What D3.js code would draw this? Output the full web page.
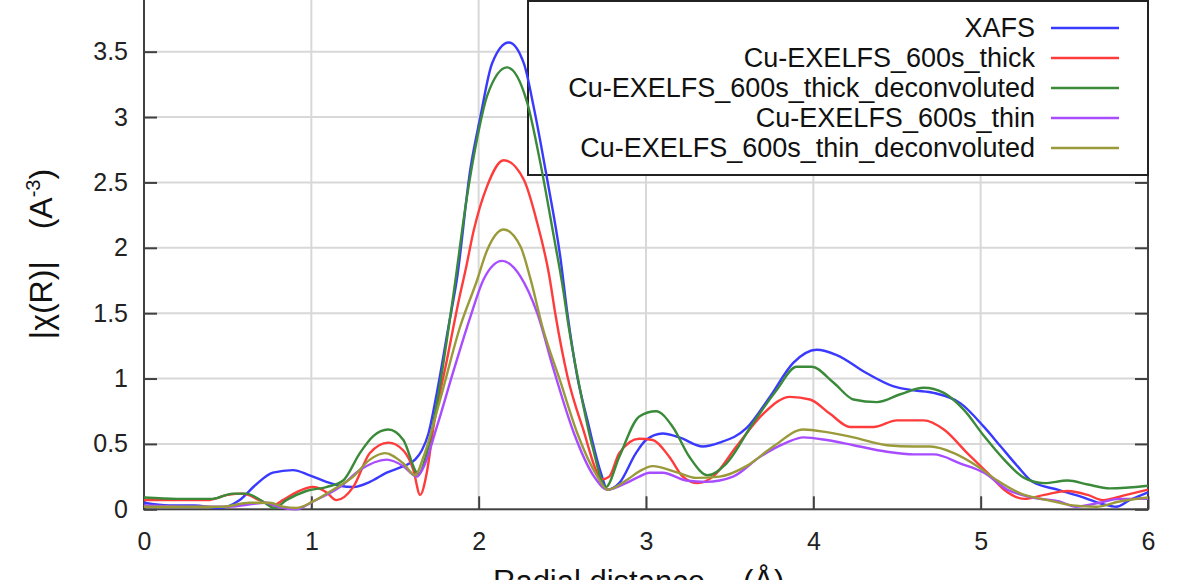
<!DOCTYPE html>
<html><head><meta charset="utf-8">
<script src="https://cdn.jsdelivr.net/npm/d3@7"></script>
<style>
html,body{margin:0;padding:0;background:#fff;}
svg{display:block;font-family:"Liberation Sans",Arial,sans-serif;}
</style></head>
<body>
<svg id="c" width="1200" height="580"></svg>
<script>
// ---- data (R in Å, |chi(R)|) ----
const xTicks = [0,1,2,3,4,5,6];
const yTicks = [0,0.5,1,1.5,2,2.5,3,3.5];
const seriesNames = ["XAFS","Cu-EXELFS_600s_thick","Cu-EXELFS_600s_thick_deconvoluted","Cu-EXELFS_600s_thin","Cu-EXELFS_600s_thin_deconvoluted"];
const seriesColors = ["#3a3aff","#ff3c3c","#3a8a3a","#a84cff","#9a9a3a"];

const xafs = [[0,0.05],[0.15,0.03],[0.3,0.03],[0.45,0.01],[0.57,0.07],[0.67,0.19],[0.77,0.28],[0.89,0.30],[0.99,0.26],[1.09,0.21],[1.17,0.18],[1.25,0.17],[1.35,0.21],[1.45,0.28],[1.55,0.33],[1.62,0.38],[1.66,0.45],[1.70,0.58],[1.75,0.89],[1.82,1.40],[1.87,1.76],[1.95,2.6],[2.01,3.0],[2.08,3.41],[2.18,3.57],[2.27,3.41],[2.33,3.07],[2.41,2.52],[2.49,1.91],[2.53,1.50],[2.59,1.01],[2.65,0.68],[2.73,0.28],[2.77,0.15],[2.84,0.20],[2.94,0.43],[3.0,0.53],[3.10,0.58],[3.20,0.55],[3.34,0.48],[3.44,0.51],[3.60,0.62],[3.74,0.86],[3.88,1.12],[4.02,1.22],[4.14,1.18],[4.32,1.04],[4.48,0.94],[4.60,0.91],[4.72,0.89],[4.88,0.81],[5.02,0.63],[5.12,0.48],[5.22,0.33],[5.31,0.21],[5.46,0.15],[5.59,0.10],[5.73,0.04],[5.81,0.02],[5.89,0.07],[6.0,0.13]];

const thick = [[0,0.07],[0.2,0.07],[0.38,0.07],[0.5,0.11],[0.59,0.12],[0.69,0.07],[0.77,0.03],[0.83,0.07],[0.91,0.13],[1.01,0.17],[1.09,0.13],[1.15,0.07],[1.25,0.17],[1.35,0.43],[1.46,0.51],[1.55,0.45],[1.61,0.30],[1.65,0.11],[1.69,0.28],[1.73,0.63],[1.81,1.14],[1.89,1.65],[1.92,1.82],[1.97,2.13],[2.05,2.47],[2.15,2.67],[2.27,2.52],[2.35,2.19],[2.42,1.80],[2.46,1.48],[2.53,1.02],[2.62,0.63],[2.74,0.23],[2.78,0.25],[2.84,0.43],[2.96,0.54],[3.04,0.53],[3.14,0.40],[3.22,0.25],[3.31,0.20],[3.40,0.25],[3.54,0.48],[3.70,0.73],[3.86,0.86],[3.98,0.84],[4.10,0.73],[4.22,0.63],[4.36,0.63],[4.50,0.68],[4.66,0.68],[4.78,0.61],[4.92,0.43],[5.04,0.28],[5.14,0.15],[5.26,0.08],[5.38,0.11],[5.52,0.14],[5.64,0.11],[5.73,0.07],[5.87,0.11],[6.0,0.15]];

const thickDeconv = [[0,0.09],[0.2,0.08],[0.41,0.08],[0.53,0.12],[0.61,0.12],[0.71,0.06],[0.78,0.01],[0.85,0.07],[0.97,0.14],[1.09,0.17],[1.19,0.22],[1.29,0.43],[1.37,0.56],[1.46,0.61],[1.55,0.53],[1.64,0.27],[1.69,0.43],[1.75,0.81],[1.85,1.65],[1.93,2.39],[1.99,2.83],[2.05,3.16],[2.17,3.38],[2.29,3.11],[2.37,2.64],[2.45,2.08],[2.50,1.72],[2.54,1.38],[2.61,0.89],[2.68,0.48],[2.76,0.17],[2.84,0.40],[2.96,0.71],[3.06,0.75],[3.16,0.63],[3.26,0.40],[3.37,0.26],[3.48,0.35],[3.64,0.66],[3.78,0.91],[3.90,1.09],[3.99,1.09],[4.12,0.97],[4.24,0.84],[4.38,0.82],[4.52,0.88],[4.66,0.93],[4.78,0.89],[4.90,0.76],[5.02,0.56],[5.14,0.38],[5.26,0.24],[5.38,0.20],[5.52,0.22],[5.64,0.19],[5.77,0.16],[6.0,0.18]];

const thin = [[0,0.03],[0.3,0.02],[0.5,0.02],[0.73,0.05],[0.80,0.02],[0.91,0.0],[1.01,0.06],[1.17,0.17],[1.29,0.30],[1.45,0.38],[1.55,0.33],[1.63,0.25],[1.67,0.32],[1.75,0.63],[1.85,1.06],[1.95,1.47],[2.03,1.76],[2.14,1.90],[2.25,1.78],[2.35,1.50],[2.45,1.06],[2.57,0.58],[2.69,0.25],[2.77,0.15],[2.88,0.20],[2.96,0.25],[3.02,0.28],[3.10,0.28],[3.24,0.22],[3.36,0.21],[3.52,0.25],[3.68,0.40],[3.84,0.51],[3.94,0.55],[4.08,0.53],[4.24,0.49],[4.44,0.44],[4.60,0.42],[4.72,0.42],[4.88,0.35],[5.02,0.28],[5.16,0.15],[5.31,0.09],[5.47,0.06],[5.57,0.02],[5.71,0.05],[5.83,0.08],[6.0,0.08]];

const thinDeconv = [[0,0.02],[0.3,0.02],[0.47,0.02],[0.63,0.05],[0.75,0.05],[0.83,0.02],[0.91,0.01],[1.01,0.06],[1.13,0.15],[1.25,0.25],[1.35,0.38],[1.44,0.43],[1.55,0.35],[1.62,0.26],[1.67,0.40],[1.77,0.84],[1.89,1.40],[1.99,1.75],[2.05,1.98],[2.15,2.14],[2.25,2.01],[2.31,1.76],[2.38,1.40],[2.49,0.97],[2.59,0.58],[2.71,0.25],[2.77,0.15],[2.88,0.22],[2.96,0.29],[3.04,0.33],[3.19,0.28],[3.30,0.24],[3.44,0.25],[3.60,0.33],[3.76,0.48],[3.94,0.61],[4.08,0.59],[4.24,0.55],[4.44,0.49],[4.60,0.48],[4.70,0.48],[4.84,0.43],[4.98,0.33],[5.10,0.22],[5.24,0.12],[5.40,0.07],[5.55,0.03],[5.69,0.02],[5.83,0.06],[6.0,0.09]];

const seriesData = [xafs, thick, thickDeconv, thin, thinDeconv];

// ---- layout ----
const svg = d3.select("#c");
const x = d3.scaleLinear().domain([0,6]).range([144,1148]);
const y = d3.scaleLinear().domain([0,4]).range([509.3,-13.7]);
const frameCol = "#404040";

// grid
const g = svg.append("g");
g.selectAll("line.gx").data(xTicks.slice(1,-1)).join("line")
  .attr("x1",d=>x(d)).attr("x2",d=>x(d)).attr("y1",y(0)).attr("y2",y(4))
  .attr("stroke","#d8d8d8").attr("stroke-width",2);
g.selectAll("line.gy").data(yTicks.slice(1)).join("line")
  .attr("x1",x(0)).attr("x2",x(6)).attr("y1",d=>y(d)).attr("y2",d=>y(d))
  .attr("stroke","#d8d8d8").attr("stroke-width",2);

// axes (inward ticks)
const axL = svg.append("g").attr("transform",`translate(${x(0)},0)`)
  .call(d3.axisLeft(y).tickValues(yTicks).tickSize(-13).tickPadding(16).tickFormat(d3.format("")));
const axR = svg.append("g").attr("transform",`translate(${x(6)},0)`)
  .call(d3.axisRight(y).tickValues(yTicks).tickSize(-13).tickFormat(""));
const axB = svg.append("g").attr("transform",`translate(0,${y(0)})`)
  .call(d3.axisBottom(x).tickValues(xTicks).tickSize(-13).tickPadding(23).tickFormat(d3.format("")));
[axL,axR,axB].forEach(a=>{
  a.select(".domain").remove();
  a.selectAll(".tick line").attr("stroke",frameCol).attr("stroke-width",2);
  a.selectAll("text").attr("font-size",25).attr("fill","#222").attr("font-family","Liberation Sans, Arial, sans-serif");
});

// frame
svg.append("rect").attr("x",x(0)).attr("y",y(4)).attr("width",x(6)-x(0)).attr("height",y(0)-y(4))
  .attr("fill","none").attr("stroke",frameCol).attr("stroke-width",2);

// legend box (opaque)
svg.append("rect").attr("x",528).attr("y",1).attr("width",x(6)-528).attr("height",174)
  .attr("fill","#fff").attr("stroke","#222").attr("stroke-width",2);

// curves
const line = d3.line().x(d=>x(d[0])).y(d=>y(d[1])).curve(d3.curveMonotoneX);
svg.append("g").selectAll("path").data(seriesData).join("path")
  .attr("d",line).attr("fill","none")
  .attr("stroke",(d,i)=>seriesColors[i]).attr("stroke-width",2.4)
  .attr("stroke-linejoin","round");

// legend content
const lg = svg.append("g");
seriesNames.forEach((n,i)=>{
  const yy = 28 + i*30;
  lg.append("text").attr("x",1035).attr("y",yy).attr("dy","0.35em")
    .attr("text-anchor","end").attr("font-size",27).attr("fill","#111").text(n);
  lg.append("line").attr("x1",1051).attr("x2",1119).attr("y1",yy).attr("y2",yy)
    .attr("stroke",seriesColors[i]).attr("stroke-width",2.4);
});

// axis titles
const yt = svg.append("text").attr("transform","translate(52,254) rotate(-90)")
  .attr("text-anchor","middle").attr("font-size",32).attr("fill","#111");
yt.append("tspan").text("|χ(R)|");
yt.append("tspan").attr("dx",32).text("(A");
yt.append("tspan").attr("font-size",20).attr("dy",-12).text("-3");
yt.append("tspan").attr("dy",12).text(")");

const xt = svg.append("text").attr("x",493).attr("y",592).attr("font-size",31).attr("fill","#111");
xt.append("tspan").text("Radial distance");
xt.append("tspan").attr("dx",38).text("(Å)");
</script>
</body></html>
